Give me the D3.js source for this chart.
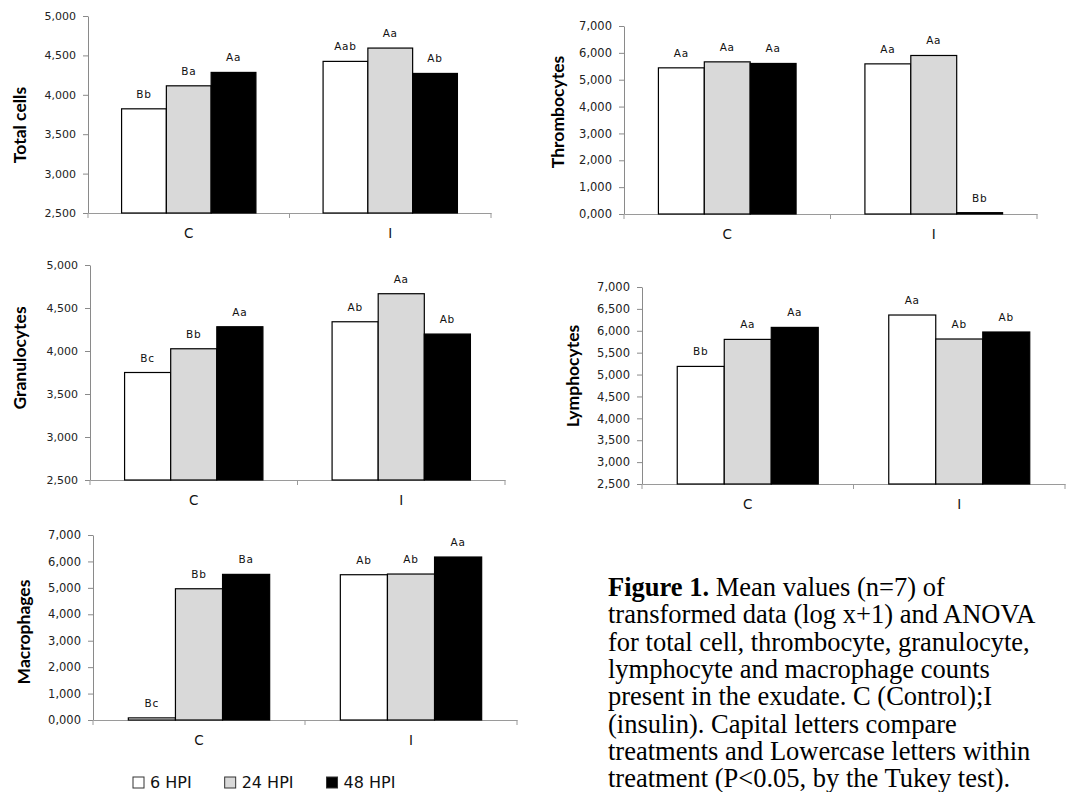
<!DOCTYPE html>
<html>
<head>
<meta charset="utf-8">
<script src="https://cdn.jsdelivr.net/npm/d3@7"></script>
<style>
  body { margin: 0; background: #fff; }
  svg { display: block; }
</style>
</head>
<body>
<svg id="fig" width="1069" height="792"></svg>
<script>
// log(x+1) means, rows = treatment (C, I), columns = 6 / 24 / 48 HPI
const categories = ["C", "I"];
const series     = ["6 HPI", "24 HPI", "48 HPI"];
const fills      = ["#ffffff", "#d9d9d9", "#000000"];

const totalCells   = [[3.822, 4.114, 4.284], [4.424, 4.593, 4.271]];
const thrombocytes = [[5.442, 5.665, 5.605], [5.590, 5.902, 0.050]];
const granulocytes = [[3.750, 4.026, 4.282], [4.340, 4.666, 4.197]];
const lymphocytes  = [[5.186, 5.803, 6.077], [6.360, 5.812, 5.972]];
const macrophages  = [[0.080, 4.966, 5.510], [5.497, 5.523, 6.167]];

const totalLetters  = [["Bb", "Ba", "Aa"], ["Aab", "Aa", "Ab"]];
const thromLetters  = [["Aa", "Aa", "Aa"], ["Aa", "Aa", "Bb"]];
const granLetters   = [["Bc", "Bb", "Aa"], ["Ab", "Aa", "Ab"]];
const lymphLetters  = [["Bb", "Aa", "Aa"], ["Aa", "Ab", "Ab"]];
const macroLetters  = [["Bc", "Bb", "Ba"], ["Ab", "Ab", "Aa"]];

const captionLines = [
  "transformed data (log x+1) and ANOVA",
  "for total cell, thrombocyte, granulocyte,",
  "lymphocyte and macrophage counts",
  "present in the exudate. C (Control);I",
  "(insulin). Capital letters compare",
  "treatments and Lowercase letters within",
  "treatment (P<0.05, by the Tukey test)."
];

const svg = d3.select("#fig");
const fmt = d => d.toFixed(3).replace(".", ",");

const panels = [
  {title: "Total cells",  values: totalCells,   letters: totalLetters, domain: [2.5, 5], step: 0.5,
   left: 88,  right: 491,  top: 16,  bottom: 213, tx: 19,  ty: 125, fs: 11},
  {title: "Thrombocytes", values: thrombocytes, letters: thromLetters, domain: [0, 7],   step: 1,
   left: 624, right: 1037, top: 26,  bottom: 214, tx: 557, ty: 112, fs: 11.5},
  {title: "Granulocytes", values: granulocytes, letters: granLetters,  domain: [2.5, 5], step: 0.5,
   left: 90,  right: 505,  top: 265, bottom: 480, tx: 19,  ty: 358, fs: 11},
  {title: "Lymphocytes",  values: lymphocytes,  letters: lymphLetters, domain: [2.5, 7], step: 0.5,
   left: 642, right: 1065, top: 287, bottom: 484, tx: 572, ty: 376, fs: 11.5},
  {title: "Macrophages",  values: macrophages,  letters: macroLetters, domain: [0, 7],   step: 1,
   left: 93,  right: 517,  top: 535, bottom: 720, tx: 23,  ty: 632, fs: 11.5}
];

function drawPanel(p) {
  const g  = svg.append("g");
  const y  = d3.scaleLinear().domain(p.domain).range([p.bottom, p.top]);
  const x0 = d3.scaleBand().domain(categories).range([p.left, p.right]);
  const x1 = d3.scaleBand().domain(series).range([0, x0.bandwidth()]).paddingOuter(0.75);

  // y axis
  const ya = g.append("g")
      .attr("transform", `translate(${p.left},0)`)
      .call(d3.axisLeft(y)
        .tickValues(d3.range(p.domain[0], p.domain[1] + p.step / 2, p.step))
        .tickSize(5).tickPadding(7).tickSizeOuter(0)
        .tickFormat(fmt));
  ya.select(".domain").attr("stroke", "#8a8a8a");
  ya.selectAll(".tick line").attr("stroke", "#8a8a8a");
  ya.selectAll(".tick text")
      .style("font-family", "DejaVu Sans")
      .style("font-size", p.fs + "px")
      .attr("fill", "#222");

  // x axis
  const xa = g.append("g")
      .attr("transform", `translate(0,${p.bottom})`)
      .call(d3.axisBottom(x0).tickSize(0).tickPadding(15).tickSizeOuter(0));
  xa.select(".domain").attr("stroke", "#9a9a9a");
  xa.selectAll(".tick text")
      .style("font-family", "DejaVu Sans")
      .style("font-size", "13.5px")
      .attr("fill", "#111");
  g.selectAll(".sep")
    .data(d3.range(categories.length + 1))
    .enter().append("line")
      .attr("x1", i => p.left + i * x0.step())
      .attr("x2", i => p.left + i * x0.step())
      .attr("y1", p.bottom)
      .attr("y2", p.bottom + 5)
      .attr("stroke", "#9a9a9a");

  // bars
  const rows = [];
  categories.forEach((c, ci) => series.forEach((s, si) => {
    rows.push({cat: c, ser: s, si: si, v: p.values[ci][si], lab: p.letters[ci][si]});
  }));

  g.selectAll(".bar")
    .data(rows)
    .enter().append("rect")
      .attr("class", "bar")
      .attr("x", d => x0(d.cat) + x1(d.ser))
      .attr("y", d => y(Math.max(d.v, p.domain[0])))
      .attr("width", x1.bandwidth())
      .attr("height", d => p.bottom - y(Math.max(d.v, p.domain[0])))
      .attr("fill", d => fills[d.si])
      .attr("stroke", "#000")
      .attr("stroke-width", 1.2);

  g.selectAll(".lab")
    .data(rows)
    .enter().append("text")
      .attr("x", d => x0(d.cat) + x1(d.ser) + x1.bandwidth() / 2)
      .attr("y", d => y(d.v) - 11)
      .attr("text-anchor", "middle")
      .style("font-family", "DejaVu Sans")
      .style("font-size", "10.5px")
      .style("letter-spacing", "0.8px")
      .attr("fill", "#111")
      .text(d => d.lab);

  // axis title
  g.append("text")
    .attr("transform", `translate(${p.tx},${p.ty}) rotate(-90)`)
    .attr("text-anchor", "middle")
    .attr("dominant-baseline", "central")
    .style("font-family", "Lato")
    .style("font-weight", "bold")
    .style("font-size", "17.5px")
    .text(p.title);
}

panels.forEach(drawPanel);

// legend under the macrophage panel
const legend = svg.append("g").attr("transform", "translate(133,788)");
let lx = 0;
series.forEach((s, i) => {
  legend.append("rect")
    .attr("x", lx)
    .attr("y", -11)
    .attr("width", 11)
    .attr("height", 11)
    .attr("fill", fills[i])
    .attr("stroke", "#333");
  const t = legend.append("text")
    .attr("x", lx + 17)
    .attr("y", 0)
    .style("font-family", "DejaVu Sans")
    .style("font-size", "16px")
    .attr("fill", "#111")
    .text(s);
  lx += 17 + t.node().getComputedTextLength() + 33;
});

// figure caption
const capTop = 596, capStep = 27.3;
const cap = svg.append("text")
  .attr("x", 608)
  .attr("y", capTop)
  .style("font-family", "Liberation Serif")
  .style("font-size", "26.5px")
  .attr("fill", "#000");
cap.append("tspan").style("font-weight", "bold").text("Figure 1.");
cap.append("tspan").text(" Mean values (n=7) of");
captionLines.forEach((line, i) => {
  svg.append("text")
    .attr("x", 608)
    .attr("y", capTop + (i + 1) * capStep)
    .style("font-family", "Liberation Serif")
    .style("font-size", "26.5px")
    .attr("fill", "#000")
    .text(line);
});
</script>
</body>
</html>
